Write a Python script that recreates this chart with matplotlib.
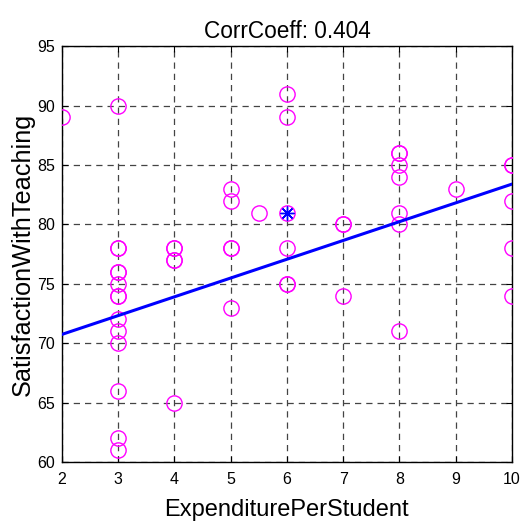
import numpy as np
import matplotlib
matplotlib.use("Agg")
import matplotlib.pyplot as plt

plt.rcParams['font.family'] = ['Liberation Sans', 'DejaVu Sans']

# Observations grouped by expenditure level
expenditure = (
    [2]
    + [3] * 14
    + [4] * 5
    + [5] * 5
    + [5.5]
    + [6] * 6
    + [7] * 3
    + [8] * 7
    + [9]
    + [10] * 5
)
satisfaction = (
    [89]
    + [90, 78, 78, 76, 76, 75, 74, 74, 72, 71, 70, 66, 62, 61]
    + [78, 78, 77, 77, 65]
    + [83, 82, 78, 78, 73]
    + [81]
    + [91, 89, 81, 78, 75, 75]
    + [80, 80, 74]
    + [86, 86, 85, 84, 81, 80, 71]
    + [83]
    + [85, 85, 82, 78, 74]
)
highlight = (6, 81)
# fitted trend line: satisfaction = fit_intercept + fit_slope * expenditure
fit_slope = 1.581
fit_intercept = 67.58
corr_text = "CorrCoeff: 0.404"
x_ticks = [2, 3, 4, 5, 6, 7, 8, 9, 10]
y_ticks = [60, 65, 70, 75, 80, 85, 90, 95]

x = np.array(expenditure, dtype=float)
y = np.array(satisfaction, dtype=float)

fig = plt.figure(figsize=(5.25, 5.25), dpi=100)
ax = fig.add_axes([0.118, 0.12, 0.857, 0.792])

ax.plot(x, y, linestyle='none', marker='o', markersize=11, markerfacecolor='none',
        markeredgecolor='#ff00ff', markeredgewidth=1.0, zorder=3)
ax.plot([highlight[0]], [highlight[1]], linestyle='none', marker=(8, 2, 0), markersize=10,
        color='#0000ff', markeredgewidth=1.0, zorder=4)
xl = np.array([x_ticks[0], x_ticks[-1]], dtype=float)
ax.plot(xl, fit_intercept + fit_slope * xl, color='#0000ff', linewidth=2.2, zorder=3)

ax.set_xlim(2, 10)
ax.set_ylim(60, 95)
ax.set_xticks(x_ticks)
ax.set_yticks(y_ticks)
ax.grid(True, color='#444444', linestyle=(0, (5, 4)), linewidth=0.9)
ax.tick_params(direction='in', top=True, right=True, length=4, width=0.8,
               labelsize=11.5, pad=5)
ax.tick_params(axis='x', pad=7)
for s in ax.spines.values():
    s.set_linewidth(1.0)

ax.set_title(corr_text, fontsize=16.3, pad=6)
ax.set_xlabel("ExpenditurePerStudent", fontsize=17, labelpad=9)
ax.set_ylabel("SatisfactionWithTeaching", fontsize=18.2, labelpad=2)

fig.savefig("out.png", dpi=100)
